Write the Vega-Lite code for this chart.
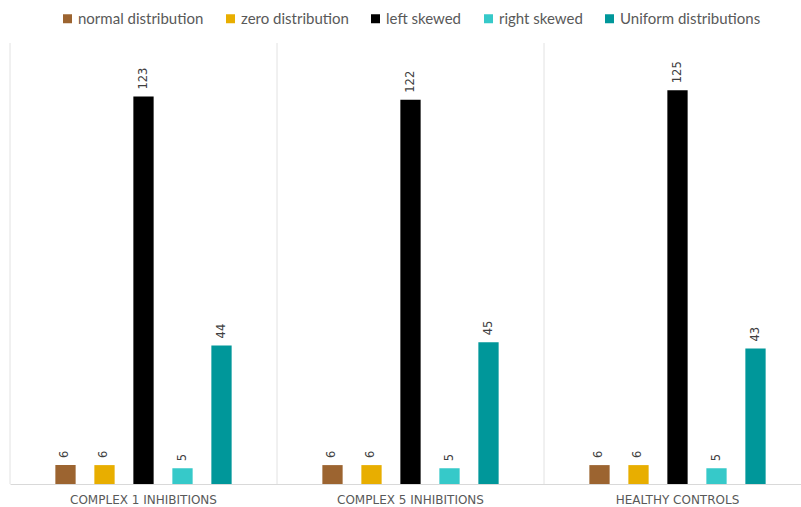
{
  "$schema": "https://vega.github.io/schema/vega-lite/v6.json",
  "width": 791,
  "height": 441,
  "autosize": {"type": "none"},
  "padding": {"left": 10, "top": 43, "right": 0, "bottom": 23},
  "background": "white",
  "config": {
    "view": {"stroke": null},
    "font": "DejaVu Sans"
  },
  "data": {
    "values": [
      {"group": "COMPLEX 1 INHIBITIONS", "series": "normal distribution", "count": 6},
      {"group": "COMPLEX 1 INHIBITIONS", "series": "zero distribution", "count": 6},
      {"group": "COMPLEX 1 INHIBITIONS", "series": "left skewed", "count": 123},
      {"group": "COMPLEX 1 INHIBITIONS", "series": "right skewed", "count": 5},
      {"group": "COMPLEX 1 INHIBITIONS", "series": "Uniform distributions", "count": 44},
      {"group": "COMPLEX 5 INHIBITIONS", "series": "normal distribution", "count": 6},
      {"group": "COMPLEX 5 INHIBITIONS", "series": "zero distribution", "count": 6},
      {"group": "COMPLEX 5 INHIBITIONS", "series": "left skewed", "count": 122},
      {"group": "COMPLEX 5 INHIBITIONS", "series": "right skewed", "count": 5},
      {"group": "COMPLEX 5 INHIBITIONS", "series": "Uniform distributions", "count": 45},
      {"group": "HEALTHY CONTROLS", "series": "normal distribution", "count": 6},
      {"group": "HEALTHY CONTROLS", "series": "zero distribution", "count": 6},
      {"group": "HEALTHY CONTROLS", "series": "left skewed", "count": 125},
      {"group": "HEALTHY CONTROLS", "series": "right skewed", "count": 5},
      {"group": "HEALTHY CONTROLS", "series": "Uniform distributions", "count": 43}
    ]
  },
  "encoding": {
    "x": {
      "field": "group",
      "type": "nominal",
      "sort": null,
      "title": null,
      "scale": {"range": [0, 801], "paddingInner": 0, "paddingOuter": 0},
      "axis": {
        "labelAngle": 0,
        "labelFont": "DejaVu Sans",
        "labelFontSize": 12,
        "labelColor": "#595959",
        "labelPadding": 10,
        "ticks": false,
        "grid": false,
        "domainColor": "#d9d9d9",
        "domainWidth": 1
      }
    }
  },
  "layer": [
    {
      "transform": [{"filter": "datum.series === 'normal distribution'"}],
      "mark": {"type": "rule", "color": "#e2e2e2", "strokeWidth": 1},
      "encoding": {
        "x": {"field": "group", "type": "nominal", "sort": null, "bandPosition": 0}
      }
    },
    {
      "mark": {"type": "bar"},
      "encoding": {
        "xOffset": {
          "field": "series",
          "type": "nominal",
          "scale": {
            "domain": ["_start", "normal distribution", "zero distribution", "left skewed", "right skewed", "Uniform distributions", "_end"],
            "paddingInner": 0.48,
            "paddingOuter": 0.163
          }
        },
        "y": {
          "field": "count",
          "type": "quantitative",
          "scale": {"domain": [0, 140], "nice": false},
          "axis": null
        },
        "color": {
          "field": "series",
          "type": "nominal",
          "title": null,
          "scale": {
            "domain": ["normal distribution", "zero distribution", "left skewed", "right skewed", "Uniform distributions"],
            "range": ["#9C6430", "#E8AE00", "#000000", "#36C9C9", "#00979A"]
          },
          "legend": {
            "orient": "none",
            "direction": "horizontal",
            "columns": 5,
            "legendX": 50,
            "legendY": -32,
            "symbolType": "square",
            "symbolSize": 81,
            "symbolStrokeWidth": 0,
            "labelFont": "Lato",
            "labelFontSize": 15,
            "labelColor": "#595959",
            "labelOffset": 3,
            "columnPadding": 19,
            "labelLimit": 300
          }
        }
      }
    },
    {
      "mark": {
        "type": "text",
        "angle": 270,
        "align": "left",
        "baseline": "middle",
        "dx": 7,
        "font": "DejaVu Sans",
        "fontSize": 11.5,
        "color": "#404040"
      },
      "encoding": {
        "xOffset": {
          "field": "series",
          "type": "nominal"
        },
        "y": {"field": "count", "type": "quantitative"},
        "text": {"field": "count", "type": "quantitative"}
      }
    }
  ]
}
